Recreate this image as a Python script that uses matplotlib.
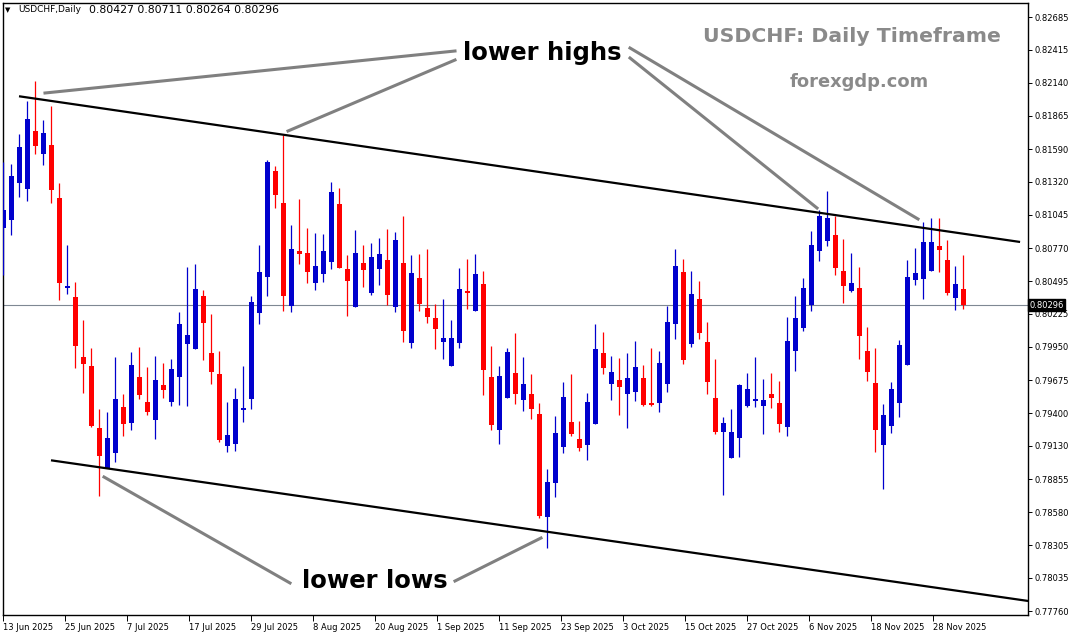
import matplotlib
matplotlib.use("Agg")
import matplotlib.pyplot as plt
from matplotlib.lines import Line2D
import numpy as np
import pandas as pd

# ---------------- data ----------------
dates = pd.bdate_range("2025-06-13", "2025-11-28")

opens = [0.80938, 0.81002, 0.81311, 0.81262, 0.81740, 0.81552, 0.81624, 0.81185, 0.80439, 0.80364,
         0.79869, 0.79792, 0.79278, 0.78946, 0.79071, 0.79452, 0.79319, 0.79701, 0.79493, 0.79347,
         0.79634, 0.79496, 0.79703, 0.79977, 0.79933, 0.80372, 0.79900, 0.79726, 0.79131, 0.79148,
         0.79430, 0.79521, 0.80234, 0.80532, 0.81408, 0.81143, 0.80292, 0.80745, 0.80729, 0.80482,
         0.80557, 0.80656, 0.81135, 0.80596, 0.80283, 0.80646, 0.80400, 0.80596, 0.80671, 0.80281,
         0.80646, 0.79983, 0.80521, 0.80273, 0.80190, 0.79991, 0.79792, 0.79983, 0.80414, 0.80248,
         0.80472, 0.79701, 0.79261, 0.79529, 0.79734, 0.79512, 0.79560, 0.79394, 0.78543, 0.78824,
         0.79123, 0.79328, 0.79187, 0.79139, 0.79314, 0.79900, 0.79645, 0.79676, 0.79562, 0.79579,
         0.79692, 0.79485, 0.79488, 0.79645, 0.80142, 0.80571, 0.79977, 0.80347, 0.79991, 0.79527,
         0.79247, 0.79032, 0.79198, 0.79463, 0.79504, 0.79463, 0.79560, 0.79485, 0.79289, 0.79919,
         0.80109, 0.80300, 0.80748, 0.80831, 0.80878, 0.80579, 0.80416, 0.80439, 0.79916, 0.79651,
         0.79139, 0.79297, 0.79488, 0.79803, 0.80507, 0.80516, 0.80582, 0.80787, 0.80671, 0.80358,
         0.80427]
highs = [0.81485, 0.81466, 0.81715, 0.81989, 0.82155, 0.81831, 0.81947, 0.81309, 0.80795, 0.80488,
         0.80173, 0.79941, 0.79435, 0.79411, 0.79869, 0.79560, 0.79908, 0.79949, 0.79784, 0.79875,
         0.79817, 0.79850, 0.80240, 0.80613, 0.80637, 0.80422, 0.80223, 0.79916, 0.79493, 0.79612,
         0.79792, 0.80372, 0.80795, 0.81500, 0.81450, 0.81707, 0.80961, 0.81176, 0.80936, 0.80894,
         0.80886, 0.81317, 0.81267, 0.80712, 0.80919, 0.80795, 0.80812, 0.80853, 0.80928, 0.80903,
         0.81035, 0.80712, 0.80720, 0.80762, 0.80306, 0.80347, 0.80173, 0.80604, 0.80679, 0.80720,
         0.80579, 0.79958, 0.79792, 0.79941, 0.80065, 0.79867, 0.79726, 0.79485, 0.78938, 0.79377,
         0.79659, 0.79726, 0.79336, 0.79568, 0.80140, 0.80074, 0.79875, 0.79858, 0.79900, 0.79999,
         0.79800, 0.79941, 0.79916, 0.80289, 0.80762, 0.80679, 0.80579, 0.80496, 0.80157, 0.79850,
         0.79369, 0.79435, 0.79643, 0.79734, 0.79867, 0.79684, 0.79734, 0.79668, 0.80198, 0.80372,
         0.80521, 0.80911, 0.81085, 0.81243, 0.81035, 0.80845, 0.80729, 0.80613, 0.80115, 0.79941,
         0.79477, 0.79659, 0.80007, 0.80671, 0.80770, 0.80986, 0.81019, 0.81019, 0.80836, 0.80621,
         0.80711]
lows = [0.80546, 0.80878, 0.81193, 0.81162, 0.81549, 0.81458, 0.81146, 0.80339, 0.80389, 0.79778,
        0.79571, 0.79289, 0.78714, 0.78946, 0.78996, 0.79212, 0.79261, 0.79521, 0.79388, 0.79189,
        0.79529, 0.79463, 0.79469, 0.79463, 0.79933, 0.79844, 0.79645, 0.79164, 0.79081, 0.79090,
        0.79330, 0.79438, 0.80140, 0.80372, 0.81102, 0.80248, 0.80240, 0.80637, 0.80480, 0.80424,
        0.80488, 0.80598, 0.80607, 0.80209, 0.80283, 0.80449, 0.80383, 0.80463, 0.80298, 0.80240,
        0.79991, 0.79941, 0.80248, 0.80148, 0.79933, 0.79850, 0.79792, 0.79941, 0.80264, 0.80248,
        0.79551, 0.79261, 0.79145, 0.79529, 0.79479, 0.79421, 0.79355, 0.78534, 0.78286, 0.78708,
        0.79073, 0.79214, 0.79090, 0.79015, 0.79314, 0.79728, 0.79512, 0.79388, 0.79280, 0.79504,
        0.79463, 0.79463, 0.79413, 0.79579, 0.80018, 0.79811, 0.79952, 0.80018, 0.79562, 0.79231,
        0.78725, 0.79032, 0.79040, 0.79455, 0.79455, 0.79231, 0.79446, 0.79247, 0.79214, 0.79753,
        0.80085, 0.80250, 0.80665, 0.80789, 0.80549, 0.80317, 0.80408, 0.79852, 0.79670, 0.79081,
        0.78776, 0.79239, 0.79372, 0.79803, 0.80466, 0.80350, 0.80582, 0.80574, 0.80383, 0.80259,
        0.80264]
closes = [0.81085, 0.81367, 0.81607, 0.81840, 0.81618, 0.81723, 0.81253, 0.80482, 0.80455, 0.79958,
          0.79808, 0.79294, 0.79046, 0.79195, 0.79518, 0.79311, 0.79800, 0.79554, 0.79413, 0.79676,
          0.79595, 0.79767, 0.80140, 0.80049, 0.80430, 0.80151, 0.79745, 0.79181, 0.79220, 0.79518,
          0.79446, 0.80322, 0.80571, 0.81483, 0.81209, 0.80375, 0.80762, 0.80723, 0.80574, 0.80621,
          0.80745, 0.81234, 0.80607, 0.80499, 0.80729, 0.80590, 0.80696, 0.80720, 0.80380, 0.80836,
          0.80082, 0.80563, 0.80306, 0.80198, 0.80099, 0.80024, 0.80024, 0.80430, 0.80397, 0.80555,
          0.79759, 0.79303, 0.79709, 0.79908, 0.79562, 0.79643, 0.79438, 0.78551, 0.78830, 0.79236,
          0.79535, 0.79231, 0.79115, 0.79493, 0.79933, 0.79778, 0.79742, 0.79620, 0.79692, 0.79784,
          0.79471, 0.79471, 0.79817, 0.80157, 0.80621, 0.79844, 0.80389, 0.80068, 0.79662, 0.79247,
          0.79319, 0.79245, 0.79634, 0.79601, 0.79518, 0.79510, 0.79529, 0.79314, 0.79999, 0.80190,
          0.80439, 0.80795, 0.81035, 0.81019, 0.80607, 0.80457, 0.80480, 0.80043, 0.79745, 0.79264,
          0.79386, 0.79601, 0.79966, 0.80530, 0.80563, 0.80820, 0.80820, 0.80756, 0.80400, 0.80472,
          0.80296]

price_ticks = [0.82685, 0.82415, 0.82140, 0.81865, 0.81590, 0.81320, 0.81045, 0.80770, 0.80495,
               0.80225, 0.79950, 0.79675, 0.79400, 0.79130, 0.78855, 0.78580, 0.78305, 0.78035, 0.77760]

# channel lines (bar index, price)
upper_x = [1.96, 127.1]
upper_y = [0.82028, 0.80820]
lower_x = [5.96, 128.1]
lower_y = [0.79010, 0.77844]

symbol = "USDCHF,Daily"
title_text = "USDCHF: Daily Timeframe"
site_text = "forexgdp.com"

# ---------------- figure ----------------
W, H = 1074, 635
fig = plt.figure(figsize=(W / 100, H / 100), dpi=100)
fig.patch.set_facecolor("white")
ax = fig.add_axes([3 / W, 20 / H, 1025 / W, 612 / H])
ax.set_facecolor("white")

o = np.array(opens); h = np.array(highs); l = np.array(lows); c = np.array(closes)
idx = np.arange(len(o))
BLUE, RED = "#0000CD", "#FF0000"
cols = [BLUE if cc >= oo else RED for oo, cc in zip(o, c)]

ax.vlines(idx, l, h, colors=cols, linewidth=0.9, zorder=3)
body_h = np.maximum(np.abs(c - o), 0.00009)
body_b = np.minimum(o, c)
ax.bar(idx, body_h, bottom=body_b, width=0.625, color=cols, linewidth=0, zorder=4)

ax.set_xlim(-0.04, 128.09)
ax.set_ylim(0.777276, 0.828011)

# current price line
ax.axhline(c[-1], color="#7f8893", linewidth=0.8, zorder=2)

# channel lines
ax.plot(upper_x, upper_y, color="black", linewidth=1.6, zorder=5, solid_capstyle="butt")
ax.plot(lower_x, lower_y, color="black", linewidth=1.6, zorder=5, solid_capstyle="butt")

# axes styling
for s in ax.spines.values():
    s.set_color("black"); s.set_linewidth(1.0)
ax.yaxis.tick_right()
ax.set_yticks(price_ticks)
ax.set_yticklabels([f"{v:.5f}" for v in price_ticks])
ax.tick_params(axis="y", direction="out", length=3, width=0.7, labelsize=6, pad=2, colors="black")

tick_idx = list(range(0, len(dates), 8))
tick_pos = [i * 62 / 64 for i in tick_idx]
ax.set_xticks(tick_pos)
ax.set_xticklabels([f"{dates[i].day} {dates[i].strftime('%b %Y')}" for i in tick_idx])
ax.tick_params(axis="x", direction="out", length=4, width=0.7, labelsize=6, pad=1.5, colors="black")
for t in ax.get_xticklabels():
    t.set_ha("left")

# current price box
ax.text(1.0015, c[-1], f"{c[-1]:.5f}", transform=ax.get_yaxis_transform(), fontsize=6,
        color="white", va="center", ha="left",
        bbox=dict(boxstyle="square,pad=0.18", facecolor="black", edgecolor="black"), zorder=10)

# ---------------- texts & pointers (figure pixel coords) ----------------
def fx(x): return x / W
def fy(y): return 1 - y / H

fig.text(fx(5), fy(10), "\u25bc", fontsize=5, va="center", ha="left", color="black")
fig.text(fx(18), fy(10), symbol, fontsize=6.5, va="center", ha="left", color="black")
fig.text(fx(89), fy(10), f"{o[-1]:.5f} {h[-1]:.5f} {l[-1]:.5f} {c[-1]:.5f}",
         fontsize=7.8, va="center", ha="left", color="black")

fig.text(fx(852), fy(37), title_text, fontsize=14.7, fontweight="bold", color="#8a8a8a",
         ha="center", va="center")
fig.text(fx(859), fy(82), site_text, fontsize=12.9, fontweight="bold", color="#8a8a8a",
         ha="center", va="center")

fig.text(fx(542), fy(53), "lower highs", fontsize=17.5, fontweight="bold", color="black",
         ha="center", va="center")
fig.text(fx(375), fy(581), "lower lows", fontsize=17.5, fontweight="bold", color="black",
         ha="center", va="center")

pointers = [((45, 93), (455, 51)),
            ((288, 131), (455, 60)),
            ((817, 208), (630, 58)),
            ((918, 219), (630, 48)),
            ((104, 477), (290, 583)),
            ((541, 538), (455, 581))]
for (x1, y1), (x2, y2) in pointers:
    fig.add_artist(Line2D([fx(x1), fx(x2)], [fy(y1), fy(y2)], transform=fig.transFigure,
                          color="#808080", linewidth=2.2, zorder=6))

fig.savefig("out.png", dpi=100, facecolor="white")
